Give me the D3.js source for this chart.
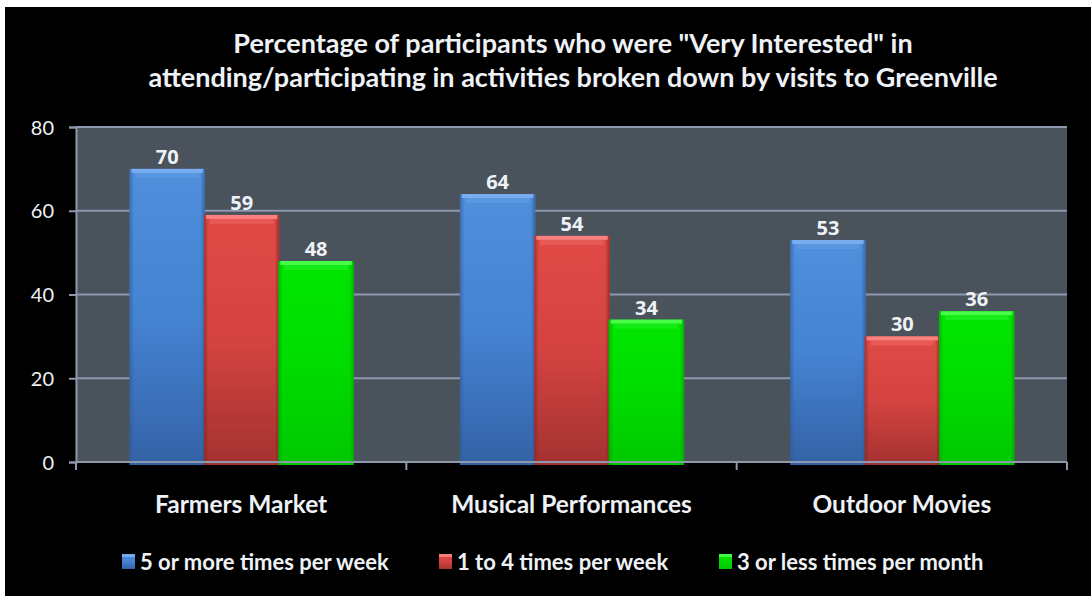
<!DOCTYPE html>
<html><head><meta charset="utf-8">
<script src="https://cdn.jsdelivr.net/npm/d3@7"></script>
<style>html,body{margin:0;padding:0;background:#fff;overflow:hidden}</style>
</head><body>
<svg id="chart" width="1091" height="596"></svg>
<script>
const titleLines = ['Percentage of participants who were "Very Interested" in', 'attending/participating in activities broken down by visits to Greenville'];
const categories = ["Farmers Market", "Musical Performances", "Outdoor Movies"];
const seriesNames = ["5 or more times per week", "1 to 4 times per week", "3 or less times per month"];
const weekly5 = [70, 64, 53];
const weekly1to4 = [59, 54, 30];
const monthly3 = [48, 34, 36];
const yTicks = [0, 20, 40, 60, 80];

const seriesValues = [weekly5, weekly1to4, monthly3];
const colors = [
  {top:"#4f8fdc", mid:"#4583d3", bot:"#3462a6", hi:"#7fb4f5", edge:"#2e5990"},
  {top:"#e04a46", mid:"#d44341", bot:"#a33230", hi:"#ff8a88", edge:"#7e2220"},
  {top:"#00e600", mid:"#00dc00", bot:"#00c800", hi:"#55ff55", edge:"#00a000"}
];

const svg = d3.select("#chart");
const W = 1091, H = 596;
svg.append("rect").attr("x",5).attr("y",7).attr("width",W-5).attr("height",H-7).attr("fill","#000");

const m = {left:76, right:1067, top:127, bottom:462};
const x0 = d3.scaleBand().domain(categories).range([m.left, m.right]).padding(0);
const x1 = d3.scaleBand().domain(d3.range(3)).range([0, x0.bandwidth()]).paddingInner(0).paddingOuter(0.72);
const y = d3.scaleLinear().domain([0, 80]).range([m.bottom, m.top]);

const defs = svg.append("defs");
colors.forEach((c,i)=>{
  const g = defs.append("linearGradient").attr("id","g"+i).attr("x1",0).attr("x2",0).attr("y1",0).attr("y2",1);
  g.append("stop").attr("offset","0%").attr("stop-color",c.top);
  g.append("stop").attr("offset","50%").attr("stop-color",c.mid);
  g.append("stop").attr("offset","100%").attr("stop-color",c.bot);
  const h = defs.append("linearGradient").attr("id","h"+i).attr("x1",0).attr("x2",1).attr("y1",0).attr("y2",0);
  h.append("stop").attr("offset","0%").attr("stop-color",c.edge).attr("stop-opacity",0.6);
  h.append("stop").attr("offset","6%").attr("stop-color",c.edge).attr("stop-opacity",0);
  h.append("stop").attr("offset","94%").attr("stop-color",c.edge).attr("stop-opacity",0);
  h.append("stop").attr("offset","100%").attr("stop-color",c.edge).attr("stop-opacity",0.7);
});

// plot background
svg.append("rect").attr("x",m.left).attr("y",m.top).attr("width",m.right-m.left).attr("height",m.bottom-m.top).attr("fill","#4a525c");

// gridlines
svg.append("g").selectAll("line").data(yTicks.filter(d=>d>0)).join("line")
  .attr("x1",m.left).attr("x2",m.right).attr("y1",d=>y(d)).attr("y2",d=>y(d))
  .attr("stroke","#8e99ad").attr("stroke-width",2);

// y axis
const yAxis = svg.append("g").attr("transform",`translate(${m.left},0)`)
  .call(d3.axisLeft(y).tickValues(yTicks).tickSize(7).tickPadding(15));
yAxis.select(".domain").attr("stroke","#8e99ad").attr("stroke-width",2);
yAxis.selectAll(".tick line").attr("stroke","#8e99ad").attr("stroke-width",2);
yAxis.selectAll("text").attr("fill","#eef2f6").attr("font-family","Lato, 'Open Sans', sans-serif").attr("font-size",20).attr("dy","0.35em");

// bars
const groups = svg.append("g").selectAll("g").data(categories).join("g")
  .attr("transform",d=>`translate(${x0(d)},0)`);
groups.each(function(cat, ci){
  const g = d3.select(this);
  const data = seriesValues.map((arr,si)=>({si, v:arr[ci]}));
  const bw = x1.bandwidth()+1;
  data.forEach(d=>{
    const bx = x1(d.si), by = y(d.v), bh = y(0)-y(d.v);
    g.append("rect").attr("x",bx).attr("y",by).attr("width",bw).attr("height",bh+3).attr("fill",`url(#g${d.si})`);
    g.append("rect").attr("x",bx).attr("y",by).attr("width",bw).attr("height",bh+3).attr("fill",`url(#h${d.si})`);
    g.append("rect").attr("x",bx+2).attr("y",by).attr("width",bw-4).attr("height",4).attr("fill",colors[d.si].hi).attr("opacity",0.85);
    g.append("rect").attr("x",bx+6).attr("y",by+4).attr("width",bw-12).attr("height",5).attr("fill",colors[d.si].hi).attr("opacity",0.25);
    g.append("text").attr("x",bx+bw/2).attr("y",by-5).attr("text-anchor","middle")
      .attr("fill","#eef2f6").attr("font-family","'Open Sans', sans-serif").attr("font-weight","bold").attr("font-size",20)
      .text(d.v);
  });
});

// x axis
const xAxis = svg.append("g").attr("transform",`translate(0,${m.bottom})`);
xAxis.append("line").attr("x1",m.left).attr("x2",m.right).attr("stroke","#8e99ad").attr("stroke-width",2);
const bounds = categories.map(c=>x0(c)).concat([m.right]);
xAxis.selectAll("line.t").data(bounds).join("line").attr("class","t")
  .attr("x1",d=>d).attr("x2",d=>d).attr("y1",0).attr("y2",8).attr("stroke","#8e99ad").attr("stroke-width",2);
xAxis.selectAll("text").data(categories).join("text")
  .attr("x",d=>x0(d)+x0.bandwidth()/2).attr("y",51).attr("text-anchor","middle")
  .attr("fill","#eef2f6").attr("font-family","Lato, sans-serif").attr("font-weight","bold").attr("font-size",24.5)
  .text(d=>d);

// title
svg.append("g").selectAll("text").data(titleLines).join("text")
  .attr("x",573).attr("y",(d,i)=>53+i*34).attr("text-anchor","middle")
  .attr("fill","#eef2f6").attr("font-family","Lato, sans-serif").attr("font-weight","bold").attr("font-size",27)
  .text(d=>d);

// legend
const legendX = [122, 439, 719];
const leg = svg.append("g").selectAll("g").data(seriesNames).join("g")
  .attr("transform",(d,i)=>`translate(${legendX[i]},562)`);
leg.append("rect").attr("x",0).attr("y",-8).attr("width",13).attr("height",15).attr("fill",(d,i)=>`url(#g${i})`);
leg.append("rect").attr("x",0).attr("y",-8).attr("width",13).attr("height",3).attr("fill",(d,i)=>colors[i].hi).attr("opacity",0.8);
leg.append("text").attr("x",18).attr("y",0).attr("dy","0.35em")
  .attr("fill","#eef2f6").attr("font-family","Lato, sans-serif").attr("font-weight","bold").attr("font-size",22)
  .text(d=>d);
</script>
</body></html>
